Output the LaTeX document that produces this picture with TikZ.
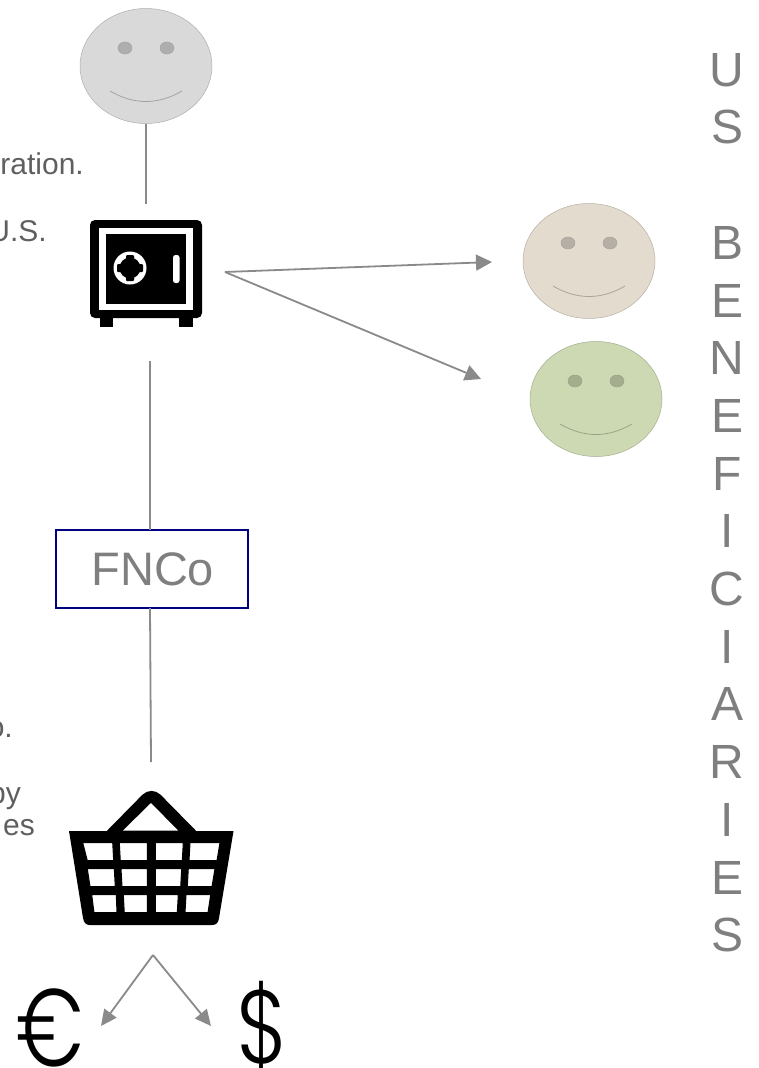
\documentclass[tikz,border=0pt]{standalone}
\usepackage{fontspec}
\setmainfont{Liberation Sans}
\newfontfamily\symfont[UprightFont=* Light]{Poppins}
\usetikzlibrary{arrows.meta,shapes.geometric}
\definecolor{linegrey}{HTML}{8A8A8A}
\definecolor{labelgrey}{HTML}{7F7F7F}
\definecolor{notegrey}{HTML}{5F5F5F}
\definecolor{boxnavy}{HTML}{000080}
\tikzset{
  face/.style={ellipse,draw=#1!80!black,line width=0.5pt,minimum width=132pt,minimum height=115pt,inner sep=0pt},
  connector/.style={draw=linegrey,line width=1.8pt},
  bigarrow/.style={connector,-{Triangle[length=16pt,width=16pt]}},
  smallarrow/.style={connector,-{Triangle[length=16pt,width=15pt]}},
  note/.style={text=notegrey,font=\fontsize{30}{30}\selectfont,anchor=base east,inner sep=0pt},
  symbol/.style={text=black,anchor=base,inner sep=0pt},
  icon/.style={fill=black,draw=none},
  hole/.style={fill=white,draw=none},
  cell/.style={fill=white,draw=black,line width=1pt},
  eye/.style={draw=#1!75!black,line width=0.5pt,fill=#1!80!black},
  smile/.style={draw=#1!75!black,line width=0.8pt}
}
\definecolor{fgrey}{HTML}{D9D9D9}
\definecolor{fbeige}{HTML}{E4DBCF}
\definecolor{fgreen}{HTML}{CDD9B3}
\newcommand{\smileyface}[4]{%
  \node[face=#4,fill=#4] (#1) at (#2,#3) {};
  \fill[eye=#4] (#2-21,#3-18) ellipse [x radius=7,y radius=6];
  \fill[eye=#4] (#2+21,#3-18) ellipse [x radius=7,y radius=6];
  \draw[smile=#4] (#2-36,#3+25) .. controls (#2-12,#3+39) and (#2+12,#3+39) .. (#2+36,#3+25);
}
\begin{document}
\begin{tikzpicture}[x=1pt,y=-1pt]
\useasboundingbox (0,0) rectangle (758,1068);
\clip (0,0) rectangle (758,1068);

% faces
\smileyface{owner}{146}{66}{fgrey}
\smileyface{beneA}{589}{261}{fbeige}
\smileyface{beneB}{596}{399}{fgreen}

% safe icon
\fill[icon,rounded corners=5pt] (90,220) rectangle (202,318);
\fill[icon] (100,316) rectangle (113,327);
\fill[icon] (179,316) rectangle (193,327);
\fill[hole] (99,228) rectangle (193,310);
\fill[icon] (106,234) rectangle (186,304);
\fill[hole] (130,268) circle [radius=16.5];
\fill[icon] (130,268) circle [radius=10.5];
\fill[icon,rounded corners=1pt] (126,255) rectangle (134,281);
\fill[icon,rounded corners=1pt] (117,264) rectangle (143,272);
\fill[hole,rounded corners=2.5pt] (173,255) rectangle (179.5,283);
\node[inner sep=0pt,minimum width=112pt,minimum height=107pt] (safe) at (146,273) {};

% FNCo
\node[draw=boxnavy,line width=1.5pt,minimum width=192pt,minimum height=78pt,inner sep=0pt,
  text=labelgrey,font=\fontsize{47}{47}\selectfont] (fnco) at (152,569) {\hspace{1.5pt}\raisebox{-1pt}{FNCo}};

% basket icon
\fill[icon,rounded corners=13pt] (93,845) -- (151.5,785.5) -- (210,845) -- cycle;
\fill[hole] (123,830.5) -- (151,803) -- (178,830.5) -- cycle;
\fill[icon] (69,831) -- (233.5,831) -- (219,918)
  .. controls (218.5,923) and (216,925) .. (212,925) -- (90,925)
  .. controls (86,925) and (84,923) .. (83,918) -- cycle;
\draw[cell] (82.7,842.7) -- (112.7,842.7) -- (113.7,860.7) -- (87.3,860.7) -- cycle;
\draw[cell] (119.3,842.7) -- (147.3,842.7) -- (147.3,860.7) -- (120.3,860.7) -- cycle;
\draw[cell] (155.3,842.7) -- (183.3,842.7) -- (182.3,860.7) -- (155.3,860.7) -- cycle;
\draw[cell] (190,842.7) -- (220,842.7) -- (217,860.7) -- (189,860.7) -- cycle;
\draw[cell] (87.3,868.7) -- (114.3,868.7) -- (115.3,886.7) -- (90,886.7) -- cycle;
\draw[cell] (121,868.7) -- (147.3,868.7) -- (147.3,886.7) -- (122,886.7) -- cycle;
\draw[cell] (155.3,868.7) -- (181.7,868.7) -- (180.7,886.7) -- (155.3,886.7) -- cycle;
\draw[cell] (188.3,868.7) -- (215,868.7) -- (212,886.7) -- (187.3,886.7) -- cycle;
\draw[cell] (91.7,894.7) -- (116.3,894.7) -- (117,912.7) -- (94,912.7) -- cycle;
\draw[cell] (123.3,894.7) -- (147.3,894.7) -- (147.3,912.7) -- (124.3,912.7) -- cycle;
\draw[cell] (155.3,894.7) -- (178.3,894.7) -- (177.3,912.7) -- (155.3,912.7) -- cycle;
\draw[cell] (186,894.7) -- (210.7,894.7) -- (208,912.7) -- (185,912.7) -- cycle;
\node[inner sep=0pt,minimum width=164pt,minimum height=134pt] (basket) at (151,858) {};

% currency symbols
\node[symbol,font=\symfont\fontsize{110}{110}\selectfont] (euro) at (50,1066) {\scalebox{0.75}[1]{€}};
\node[symbol,font=\symfont\fontsize{104}{104}\selectfont] (dollar) at (263,1063) {\scalebox{0.84}[1]{\$}};

% notes clipped by the left edge
\node[note] (n1) at (84,174) {ration.};
\node[note] (n2) at (47,241) {U.S.};
\node[note] (n3) at (13,737) {o.};
\node[note] (n4) at (21,803) {by};
\node[note] (n5) at (35,835) {es};

% side label
\node[text=labelgrey,font=\fontsize{48}{57.7}\selectfont,align=center,inner sep=0pt,anchor=north] (side) at (727,53)
  {U\\S\\ \\B\\E\\N\\E\\F\\I\\C\\I\\A\\R\\I\\E\\S};

% free ends
\coordinate (ownerEnd) at (146,204);
\coordinate (safeOut) at (150,361);
\coordinate (fncoIn) at (150,530);
\coordinate (fncoOut) at (150,608);
\coordinate (basketIn) at (151,762);
\coordinate (fork) at (225,272);
\coordinate (tipA) at (492,262);
\coordinate (tipB) at (481,379);
\coordinate (split) at (153,955);
\coordinate (tipEuro) at (101,1026);
\coordinate (tipDollar) at (211,1026);

% connectors
\draw[connector] (owner.south) -- (ownerEnd);
\draw[connector] (safeOut) -- (fncoIn);
\draw[connector] (fncoOut) -- (basketIn);
\draw[bigarrow] (fork) -- (tipA);
\draw[bigarrow] (fork) -- (tipB);
\draw[smallarrow] (split) -- (tipEuro);
\draw[smallarrow] (split) -- (tipDollar);
\end{tikzpicture}
\end{document}
